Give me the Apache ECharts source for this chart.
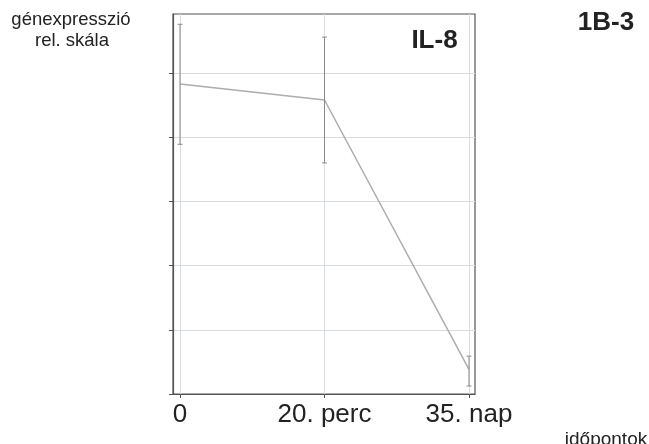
<!DOCTYPE html>
<html>
<head>
<meta charset="utf-8">
<script src="https://cdn.jsdelivr.net/npm/echarts@6/dist/echarts.min.js"></script>
<style>html,body{margin:0;padding:0;background:#fff}#c{width:649px;height:444px}</style>
</head>
<body>
<div id="c"></div>
<script>
var categories = ['0', '20. perc', '35. nap'];
var positions = [0, 1, 2];
var means = [4.83, 4.58, 0.385];
var errHigh = [5.76, 5.56, 0.59];
var errLow = [3.89, 3.60, 0.125];
var yTicks = [0, 1, 2, 3, 4, 5];

var FONT = '"Liberation Sans", Arial, sans-serif';
var chart = echarts.init(document.getElementById('c'));

var lineData = positions.map(function (p, i) { return [p, means[i]]; });
var errData = positions.map(function (p, i) { return [p, errLow[i], errHigh[i]]; });

chart.setOption({
  animation: false,
  backgroundColor: '#fff',
  graphic: [
    { type: 'text', x: 71, y: 20, style: { text: 'génexpresszió', fontFamily: FONT, fontSize: 18.5, fill: '#222', align: 'center', verticalAlign: 'middle' } },
    { type: 'text', x: 72, y: 41, style: { text: 'rel. skála', fontFamily: FONT, fontSize: 18.5, fill: '#222', align: 'center', verticalAlign: 'middle' } },
    { type: 'text', x: 606, y: 23, style: { text: '1B-3', fontFamily: FONT, fontSize: 26, fontWeight: 'bold', fill: '#222', align: 'center', verticalAlign: 'middle' } },
    { type: 'text', x: 434.5, y: 41, style: { text: 'IL-8', fontFamily: FONT, fontSize: 26, fontWeight: 'bold', fill: '#222', align: 'center', verticalAlign: 'middle' } },
    { type: 'text', x: 606, y: 440, style: { text: 'időpontok', fontFamily: FONT, fontSize: 19, fill: '#222', align: 'center', verticalAlign: 'middle' } }
  ],
  grid: {
    left: 173, right: 174, top: 14, bottom: 50,
    show: true, borderColor: '#555', borderWidth: 1.2, backgroundColor: 'transparent'
  },
  xAxis: {
    type: 'value', min: -0.0484, max: 2.0416,
    axisLine: { show: true, onZero: false, lineStyle: { color: '#555', width: 1.2 } },
    axisTick: { show: true, customValues: positions, length: 4, lineStyle: { color: '#555' } },
    axisLabel: {
      customValues: positions, margin: 8,
      fontFamily: FONT, fontSize: 26, color: '#222',
      formatter: function (v) { var i = positions.indexOf(v); return i >= 0 ? categories[i] : ''; }
    },
    splitLine: { show: true, lineStyle: { color: '#d8dce0', width: 1 } }
  },
  yAxis: {
    type: 'value', min: 0, max: 5.92,
    axisLine: { show: true, onZero: false, lineStyle: { color: '#555', width: 1.2 } },
    axisTick: { show: true, customValues: yTicks, length: 4, lineStyle: { color: '#555' } },
    axisLabel: { show: false, customValues: yTicks },
    splitLine: { show: true, lineStyle: { color: '#d8dce0', width: 1 } }
  },
  series: [
    {
      type: 'line', data: lineData, showSymbol: false, symbol: 'none',
      lineStyle: { color: '#adadad', width: 1.5 }, z: 3
    },
    {
      type: 'custom', data: errData, z: 4,
      renderItem: function (params, api) {
        var x = api.value(0);
        var lo = api.coord([x, api.value(1)]);
        var hi = api.coord([x, api.value(2)]);
        var cw = 2.5;
        var st = { stroke: '#8a8a8a', lineWidth: 1 };
        return {
          type: 'group',
          children: [
            { type: 'line', shape: { x1: hi[0], y1: hi[1], x2: lo[0], y2: lo[1] }, style: st },
            { type: 'line', shape: { x1: hi[0] - cw, y1: hi[1], x2: hi[0] + cw, y2: hi[1] }, style: st },
            { type: 'line', shape: { x1: lo[0] - cw, y1: lo[1], x2: lo[0] + cw, y2: lo[1] }, style: st }
          ]
        };
      }
    }
  ]
});
</script>
</body>
</html>
